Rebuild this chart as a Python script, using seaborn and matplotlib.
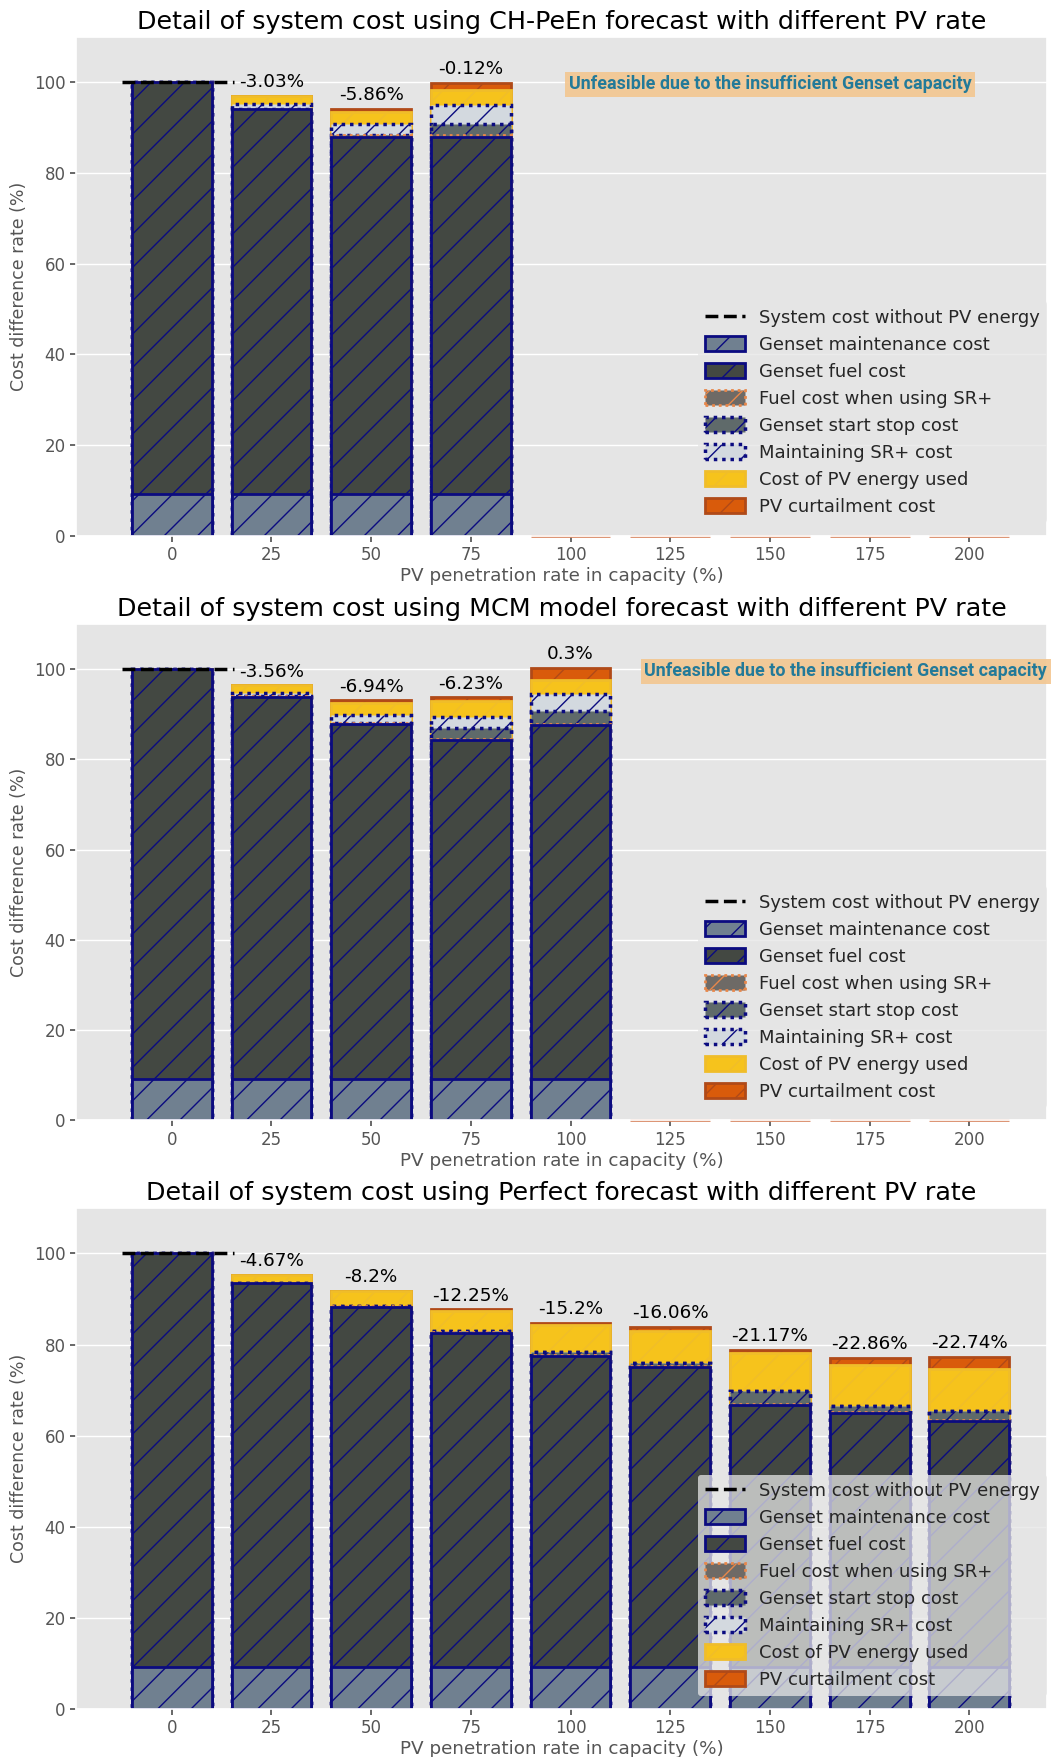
import numpy as np
import matplotlib
matplotlib.use('Agg')
import matplotlib.pyplot as plt
import matplotlib.patches as mpatches
from matplotlib.lines import Line2D
import seaborn as sns

# PV penetration rate in capacity (%)
pv_rates = [0, 25, 50, 75, 100, 125, 150, 175, 200]

# CH-PeEn forecast, cost segments (% of system cost without PV), None = unfeasible
chp_maint = [9.1, 9.1, 9.1, 9.1, None, None, None, None, None]
chp_fuel = [90.9, 84.9, 78.9, 78.9, None, None, None, None, None]
chp_fuel_sr = [0, 0.2, 0.3, 0.3, None, None, None, None, None]
chp_start_stop = [0, 0, 0, 2.4, None, None, None, None, None]
chp_maint_sr = [0, 1.0, 2.5, 4.2, None, None, None, None, None]
chp_pv_used = [0, 1.77, 2.74, 3.38, None, None, None, None, None]
chp_curtail = [0, 0, 0.6, 1.6, None, None, None, None, None]
chp_labels = ['', '-3.03%', '-5.86%', '-0.12%', '', '', '', '', '']

# MCM model forecast
mcm_maint = [9.1, 9.1, 9.1, 9.1, 9.1, None, None, None, None]
mcm_fuel = [90.9, 84.7, 78.7, 75.2, 78.4, None, None, None, None]
mcm_fuel_sr = [0, 0.2, 0.3, 0.3, 0.3, None, None, None, None]
mcm_start_stop = [0, 0, 0, 2.3, 2.9, None, None, None, None]
mcm_maint_sr = [0, 0.6, 1.8, 2.5, 3.8, None, None, None, None]
mcm_pv_used = [0, 1.84, 2.56, 3.57, 3.0, None, None, None, None]
mcm_curtail = [0, 0, 0.6, 0.8, 2.8, None, None, None, None]
mcm_labels = ['', '-3.56%', '-6.94%', '-6.23%', '0.3%', '', '', '', '']

# Perfect forecast
per_maint = [9.1, 9.1, 9.1, 9.1, 9.1, 9.1, 9.1, 9.1, 9.1]
per_fuel = [90.9, 84.4, 79.2, 73.4, 68.3, 65.9, 57.6, 55.8, 54.1]
per_fuel_sr = [0, 0.1, 0.2, 0.2, 0.2, 0.2, 0.2, 0.2, 0.2]
per_start_stop = [0, 0, 0, 0.3, 0.7, 0.8, 2.9, 1.5, 2.0]
per_maint_sr = [0, 0, 0, 0, 0, 0, 0, 0, 0]
per_pv_used = [0, 1.73, 3.3, 4.45, 6.1, 6.94, 8.43, 8.94, 9.16]
per_curtail = [0, 0, 0, 0.3, 0.4, 1.0, 0.6, 1.6, 2.7]
per_labels = ['', '-4.67%', '-8.2%', '-12.25%', '-15.2%', '-16.06%', '-21.17%', '-22.86%', '-22.74%']

layer_names = ['Genset maintenance cost', 'Genset fuel cost', 'Fuel cost when using SR+',
               'Genset start stop cost', 'Maintaining SR+ cost', 'Cost of PV energy used',
               'PV curtailment cost']

dot = (0, (1, 1.4))
styles = [
    dict(color='#708090', edgecolor='#0b0b80', linewidth=2.0, linestyle='-', hatch='/'),
    dict(color='#434842', edgecolor='#0b0b80', linewidth=2.0, linestyle='-', hatch='/'),
    dict(color='#6e6a66', edgecolor='#e8874a', linewidth=2.0, linestyle=dot, hatch='/'),
    dict(color='#5f6a6a', edgecolor='#0b0b80', linewidth=2.5, linestyle=dot, hatch='/'),
    dict(color='#d3d9df', edgecolor='#0b0b80', linewidth=2.5, linestyle=dot, hatch='/'),
    dict(color='#f6c31c', edgecolor='#f0bd2a', linewidth=2.0, linestyle='-', hatch='/'),
    dict(color='#d95b0b', edgecolor='#b04a18', linewidth=2.0, linestyle='-', hatch='/'),
]

sns.set_theme(style='darkgrid', rc={
    'axes.facecolor': '#E5E5E5', 'grid.color': 'white', 'grid.linewidth': 1.0,
    'xtick.bottom': True, 'ytick.left': True, 'xtick.major.size': 4, 'ytick.major.size': 4,
    'xtick.color': '#555555', 'ytick.color': '#555555', 'axes.labelcolor': '#555555',
    'hatch.linewidth': 1.0,
})
plt.rcParams['font.family'] = ['DejaVu Sans']

fig = plt.figure(figsize=(10.51, 17.57), dpi=100)
unfeasible_texts = []


def draw_panel(ax, title, segs, labels, unfeasible_x=None):
    seg = np.array(segs, dtype=float)
    cum = np.cumsum(seg, axis=0)
    # stacked bars drawn from the top layer down
    for i in reversed(range(len(seg))):
        y = cum[i]
        if i == len(seg) - 1:
            y = np.where(np.isnan(y), 0, y)
        n_before = len(ax.patches)
        sns.barplot(x=pv_rates, y=y, order=pv_rates, ax=ax, saturation=1,
                    errorbar=None, width=0.8, **styles[i])
        if i == len(seg) - 1:
            for p in ax.patches[n_before:]:
                if p.get_height() == 0:
                    p.set_clip_on(False)
                    p.set_edgecolor('#d98a66')
    ax.hlines(100, -0.5, 0.62, colors='black', linestyles='--', linewidth=2.5, zorder=5)
    total = cum[-1]
    for i, lab in enumerate(labels):
        if lab:
            ax.text(i, total[i] + 1, lab, ha='center', va='bottom', fontsize=13.2, color='black')
    if unfeasible_x is not None:
        t = ax.text(unfeasible_x, 99.5, 'Unfeasible due to the insufficient Genset capacity',
                    ha='left', va='center', fontsize=12.5, fontweight='bold', color='#237a99',
                    family=['Roboto', 'DejaVu Sans'],
                    bbox=dict(boxstyle='square,pad=0.2', fc='#f3c690', ec='none', alpha=0.9))
        unfeasible_texts.append(t)
    ax.set_ylim(0, 110)
    ax.set_xlim(-0.96, 8.78)
    ax.set_yticks([0, 20, 40, 60, 80, 100])
    ax.tick_params(labelsize=12)
    ax.set_title(title, fontsize=18.3, color='black')
    ax.set_xlabel('PV penetration rate in capacity (%)', fontsize=13.2, labelpad=2)
    ax.set_ylabel('Cost difference rate (%)', fontsize=12.5)

    handles = [Line2D([0], [0], color='black', linestyle='--', linewidth=2.5)]
    for st in styles:
        handles.append(mpatches.Patch(facecolor=st['color'], edgecolor=st['edgecolor'],
                                      linewidth=st['linewidth'], linestyle=st['linestyle'],
                                      hatch=st['hatch']))
    ax.legend(handles, ['System cost without PV energy'] + layer_names,
              loc='lower right', bbox_to_anchor=(1.0, 0.025), borderaxespad=0,
              fontsize=13, labelspacing=0.5, handlelength=2.2, handleheight=0.9,
              facecolor='#E5E5E5', edgecolor='none', framealpha=0.75)


ax1 = fig.add_axes([0.0723, 0.6952, 0.924, 0.2838])
ax2 = fig.add_axes([0.0723, 0.3623, 0.924, 0.2826])
ax3 = fig.add_axes([0.0723, 0.0274, 0.924, 0.2851])

draw_panel(ax1, 'Detail of system cost using CH-PeEn forecast with different PV rate',
           [chp_maint, chp_fuel, chp_fuel_sr, chp_start_stop, chp_maint_sr, chp_pv_used, chp_curtail],
           chp_labels, unfeasible_x=3.98)
draw_panel(ax2, 'Detail of system cost using MCM model forecast with different PV rate',
           [mcm_maint, mcm_fuel, mcm_fuel_sr, mcm_start_stop, mcm_maint_sr, mcm_pv_used, mcm_curtail],
           mcm_labels, unfeasible_x=4.74)
draw_panel(ax3, 'Detail of system cost using Perfect forecast with different PV rate',
           [per_maint, per_fuel, per_fuel_sr, per_start_stop, per_maint_sr, per_pv_used, per_curtail],
           per_labels)

# shrink the unfeasible note to the width it has in the original (~400 px)
fig.canvas.draw()
for t in unfeasible_texts:
    w = t.get_window_extent().width
    t.set_fontsize(t.get_fontsize() * 400.0 / w)

fig.savefig('out.png', dpi=100)
